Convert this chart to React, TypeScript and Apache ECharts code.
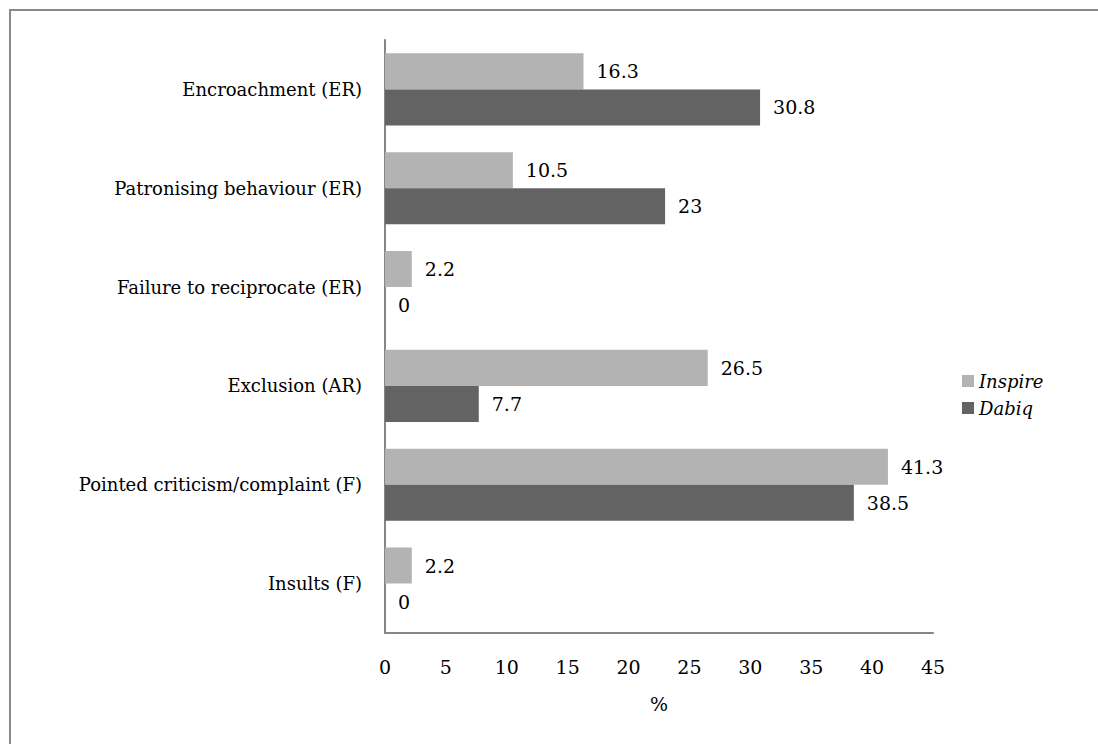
import React, { useEffect, useRef } from "react";
import * as echarts from "echarts";

const categories = [
  "Encroachment (ER)",
  "Patronising behaviour (ER)",
  "Failure to reciprocate (ER)",
  "Exclusion (AR)",
  "Pointed criticism/complaint (F)",
  "Insults (F)",
];
const inspireValues = [16.3, 10.5, 2.2, 26.5, 41.3, 2.2];
const dabiqValues = [30.8, 23, 0, 7.7, 38.5, 0];
const seriesNames = ["Inspire", "Dabiq"];
const xTicks = { min: 0, max: 45, interval: 5 };

const FONT = "DejaVu Serif";

export default function App() {
  const ref = useRef<HTMLDivElement>(null);
  useEffect(() => {
    if (!ref.current) return;
    const chart = echarts.init(ref.current, undefined, { renderer: "svg" });
    const label = {
      show: true,
      position: "right" as const,
      distance: 13,
      color: "#000",
      fontFamily: FONT,
      fontSize: 19,
    };
    chart.setOption({
      animation: false,
      backgroundColor: "#fff",
      textStyle: { fontFamily: FONT },
      graphic: [
        {
          type: "rect",
          shape: { x: 10, y: 10, width: 1300, height: 1000 },
          style: { fill: "none", stroke: "#8a8a8a", lineWidth: 2 },
          silent: true,
          z: -10,
        },
      ],
      grid: { left: 385, top: 40, right: 165, bottom: 111 },
      legend: {
        orient: "vertical",
        left: 957,
        top: 367,
        itemWidth: 12,
        itemHeight: 12,
        itemGap: 9,
        icon: "rect",
        textStyle: {
          fontFamily: FONT,
          fontSize: 18,
          fontStyle: "italic",
          color: "#000",
        },
        data: seriesNames,
      },
      xAxis: {
        type: "value",
        min: xTicks.min,
        max: xTicks.max,
        interval: xTicks.interval,
        name: "%",
        nameLocation: "middle",
        nameGap: 61,
        nameTextStyle: { fontFamily: FONT, fontSize: 19, color: "#000" },
        axisLine: { show: true, lineStyle: { color: "#868686", width: 2 } },
        axisTick: { show: false },
        splitLine: { show: false },
        axisLabel: {
          fontFamily: FONT,
          fontSize: 19,
          color: "#000",
          margin: 24,
        },
      },
      yAxis: {
        type: "category",
        data: categories,
        inverse: true,
        axisLine: { show: true, lineStyle: { color: "#868686", width: 2 } },
        axisTick: { show: false },
        axisLabel: {
          fontFamily: FONT,
          fontSize: 18,
          color: "#000",
          margin: 23,
        },
      },
      series: [
        {
          name: seriesNames[0],
          type: "bar",
          data: inspireValues,
          itemStyle: { color: "#b3b3b3" },
          barGap: "0%",
          barCategoryGap: "27%",
          label,
        },
        {
          name: seriesNames[1],
          type: "bar",
          data: dabiqValues,
          itemStyle: { color: "#636363" },
          barGap: "0%",
          barCategoryGap: "27%",
          label,
        },
      ],
    });
    return () => chart.dispose();
  }, []);
  return (
    <div
      ref={ref}
      style={{ position: "absolute", left: 0, top: 0, width: 1098, height: 744 }}
    />
  );
}
